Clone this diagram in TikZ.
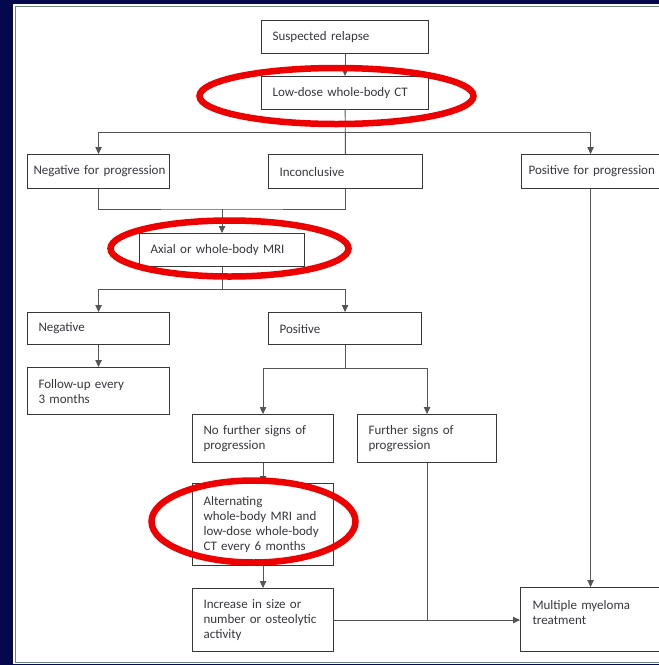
\documentclass[tikz,border=0pt]{standalone}
\usepackage{fontspec}
\setmainfont{Carlito}
\usetikzlibrary{arrows.meta,positioning}
\definecolor{navyback}{RGB}{6,8,78}
\definecolor{panelrim}{RGB}{110,135,125}
\definecolor{boxline}{RGB}{55,55,55}
\definecolor{boxtext}{RGB}{55,55,62}
\definecolor{ringred}{RGB}{238,0,0}
\newcommand\flowfont{\fontsize{13}{15}\selectfont
  \spaceskip=0.2em plus 0.1em minus 0.05em\relax
  \hyphenpenalty=10000\relax}
\tikzset{
  stepbox/.style={draw=boxline, line width=1.1pt, anchor=north west, align=left,
    inner xsep=11pt, inner ysep=0pt, text=boxtext, font=\flowfont},
  link/.style={draw=boxline!85, line width=0.9pt},
  arr/.style={link, -{Triangle[length=7pt,width=6.5pt]}},
  ring/.style={draw=ringred, line width=6.5pt},
}

\begin{document}
\begin{tikzpicture}[x=1pt,y=-1pt]
  \useasboundingbox (0,0) rectangle (659,665);
  \fill[navyback] (0,0) rectangle (659,665);
  \fill[white] (13,4) rectangle (660,664);
  \draw[panelrim, line width=1pt] (15,6) rectangle (670,662);

  % first row
  \node[stepbox, text width=145pt, minimum height=33pt] (relapse) at (261,20) {Suspected relapse};
  \node[stepbox, text width=145pt, minimum height=33pt] (ct) at (261,76) {Low-dose whole-body CT};

  \node[stepbox, inner xsep=6pt, text width=130pt, minimum height=34pt] (negprog) at (27,154) {\mbox{Negative for progression}};
  \node[stepbox, text width=132pt, minimum height=34pt] (inconc) at (268,154) {Inconclusive};
  \node[stepbox, inner xsep=7pt, text width=124pt, minimum height=34pt] (posprog) at (521,154) {\mbox{Positive for progression}};

  % MRI branch
  \node[stepbox, text width=143pt, minimum height=33pt] (mri) at (139,233) {Axial or whole-body MRI};
  \node[stepbox, text width=120pt, minimum height=32pt] (neg) at (27,312) {Negative};
  \node[stepbox, text width=131pt, minimum height=32pt] (pos) at (268,312) {Positive};
  \node[stepbox, text width=120pt, minimum height=47pt] (follow) at (27,367) {Follow-up every\\3 months};

  \node[stepbox, text width=119pt, minimum height=48pt] (nofurther) at (192,414) {No further signs of\\progression};
  \node[stepbox, text width=117pt, minimum height=48pt] (further) at (357,414) {Further signs of\\progression};
  \node[stepbox, text width=119pt, minimum height=82pt] (altern) at (192,483) {Alternating\\whole-body MRI and\\low-dose whole-body\\CT every 6 months};
  \node[stepbox, text width=119pt, minimum height=63pt] (increase) at (192,588) {Increase in size or\\number or osteolytic\\activity};
  \node[stepbox, inner xsep=12pt, text width=115pt, minimum height=64pt] (myeloma) at (520,587) {Multiple myeloma\\treatment\\~};

  % connectors
  \draw[arr] (relapse) -- (ct);
  \draw[link] (ct) -- (inconc);
  \coordinate (split1) at (344,132);
  \draw[arr] (split1) -| (negprog.north);
  \draw[arr] (split1) -| (posprog.north);

  \path (mri.north) ++(0,-24) coordinate (merge1);
  \draw[link] (negprog.south) |- (merge1) -| (inconc.south);
  \draw[arr] (merge1) -- (mri.north);

  \path (mri.south) ++(0,22) coordinate (split2);
  \draw[link] (mri.south) -- (split2);
  \draw[arr] (split2) -| (neg.north);
  \draw[arr] (split2) -| (pos.north);
  \draw[arr] (neg) -- (follow);

  \path (pos.south) ++(0,23) coordinate (split3);
  \draw[link] (pos.south) -- (split3);
  \draw[arr] (split3) -| (nofurther.north);
  \draw[arr] (split3) -| (further.north);
  \draw[arr] (nofurther) -- (altern);
  \draw[arr] (altern) -- (increase);

  \draw[arr] (increase.east) -- (increase.east -| myeloma.west);
  \draw[link] (further.south) -- (further.south |- increase.east);
  \draw[arr] (posprog.south) -- (posprog.south |- myeloma.north);

  % red rings
  \draw[ring] (336.5,96) ellipse [x radius=137, y radius=28];
  \draw[ring] (229.5,248.5) ellipse [x radius=119, y radius=28];
  \draw[ring] (253.5,521.5) ellipse [x radius=102, y radius=41];
\end{tikzpicture}
\end{document}
